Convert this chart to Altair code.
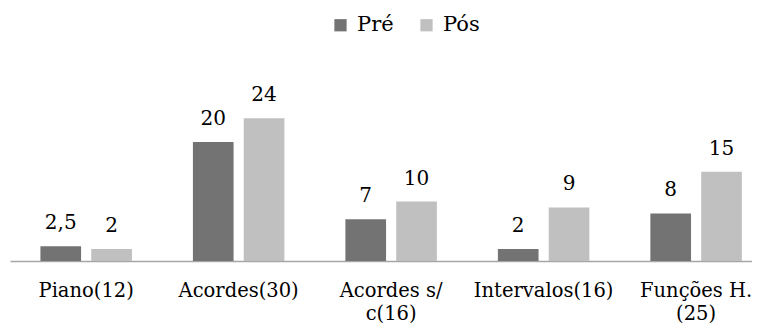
import altair as alt
import pandas as pd

categories = ["Piano(12)", "Acordes(30)", "Acordes s/|c(16)", "Intervalos(16)", "Funções H.|(25)"]
series = ["Pré", "Pós"]
pre_values = [2.5, 20, 7, 2, 8]
pos_values = [2, 24, 10, 9, 15]
colors = ["#737373", "#c0c0c0"]


def fmt(v):
    return (str(int(v)) if float(v).is_integer() else str(v)).replace(".", ",")


rows = []
for c, a, b in zip(categories, pre_values, pos_values):
    rows.append({"cat": c, "serie": "Pré", "valor": a, "label": fmt(a)})
    rows.append({"cat": c, "serie": "Pós", "valor": b, "label": fmt(b)})
df = pd.DataFrame(rows)

FONT = "DejaVu Serif"

base = alt.Chart(df).encode(
    x=alt.X(
        "cat:N",
        sort=categories,
        title=None,
        scale=alt.Scale(paddingInner=0.4, paddingOuter=0.133, align=0.75),
        axis=alt.Axis(
            labelAngle=0,
            ticks=False,
            domainColor="#a6a6a6",
            domainWidth=1.5,
            labelFont=FONT,
            labelFontSize=19.5,
            labelColor="#000000",
            labelPadding=20,
            labelLineHeight=23,
            labelOverlap=False,
            labelExpr="split(datum.label, '|')",
        ),
    ),
    xOffset=alt.XOffset(
        "serie:N", sort=series, scale=alt.Scale(paddingInner=0.2, paddingOuter=0)
    ),
    y=alt.Y("valor:Q", scale=alt.Scale(domain=[0, 30]), axis=None),
)

bars = base.mark_bar().encode(
    color=alt.Color(
        "serie:N",
        sort=series,
        scale=alt.Scale(domain=series, range=colors),
        legend=alt.Legend(
            title=None,
            orient="none",
            direction="horizontal",
            legendX=320,
            legendY=-68,
            padding=0,
            symbolType="square",
            symbolSize=150,
            symbolStrokeWidth=0,
            labelFont=FONT,
            labelFontSize=21,
            labelColor="#000000",
            labelOffset=6,
            columnPadding=22,
        ),
    )
)

labels = base.mark_text(
    baseline="alphabetic", dy=-17, font=FONT, fontSize=20, color="#000000"
).encode(text="label:N")

chart = (
    (bars + labels)
    .properties(
        width=742,
        height=178.5,
        autosize=alt.AutoSizeParams(type="none"),
        padding={"left": 2, "top": 74.5, "right": 0, "bottom": 62},
    )
    .configure_view(strokeWidth=0)
)

chart.save("out.html", embed_options={"renderer": "svg", "actions": False})
